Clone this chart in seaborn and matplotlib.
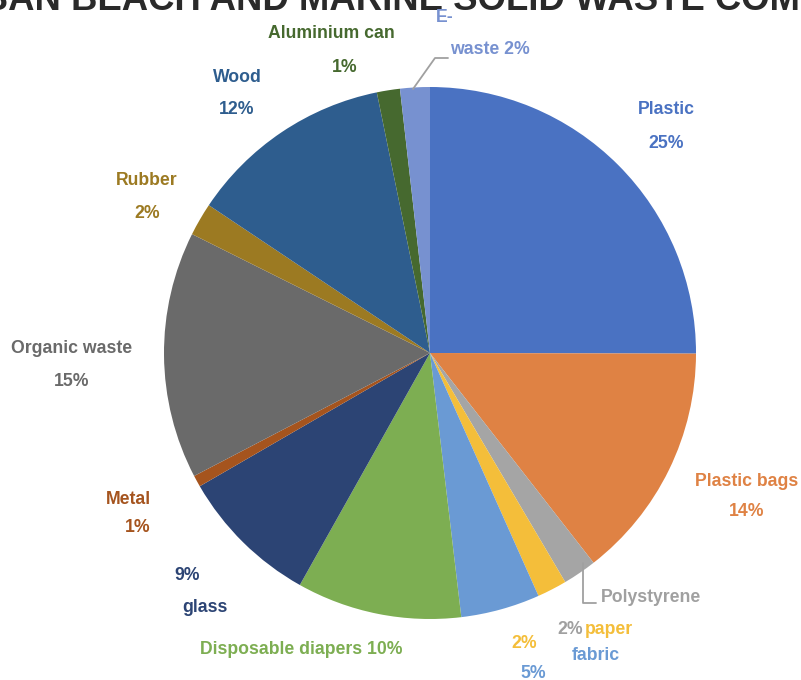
import matplotlib
matplotlib.use("Agg")
import matplotlib.pyplot as plt
from matplotlib.lines import Line2D
import seaborn as sns

# ---- data ----
categories = ["Plastic", "Plastic bags", "Polystyrene", "paper", "fabric",
              "Disposable diapers", "glass", "Metal", "Organic waste",
              "Rubber", "Wood", "Aluminium can", "E-waste"]
values = [25.0, 14.4, 2.05, 1.8, 4.8, 10.0, 8.5, 0.7, 15.0, 2.0, 12.4, 1.4, 1.8]
pct_labels = ["25%", "14%", "2%", "2%", "5%", "10%", "9%", "1%", "15%",
              "2%", "12%", "1%", "2%"]
colors = ["#4A72C2", "#DF8244", "#A5A5A5", "#F4BE3A", "#6A9AD4",
          "#7DAE52", "#2C4474", "#A5541E", "#6A6A6A",
          "#9C7A22", "#2E5D8E", "#46692F", "#7791D0"]
title = "URBAN BEACH AND MARINE SOLID WASTE COMPOSITION"

sns.set_theme(style="white")
plt.rcParams['font.family'] = ['Liberation Sans', 'DejaVu Sans']

W, H = 801, 680
fig = plt.figure(figsize=(W / 100, H / 100), dpi=100)
fig.patch.set_facecolor("white")

cx, cy, r = 430, 353, 266
ax = fig.add_axes([(cx - r) / W, (H - cy - r) / H, 2 * r / W, 2 * r / H])
palette = sns.color_palette(colors)
ax.pie(values, colors=palette, startangle=90, counterclock=False, radius=1,
       wedgeprops=dict(linewidth=0))
ax.set_xlim(-1, 1)
ax.set_ylim(-1, 1)
ax.set_aspect("equal")
ax.axis("off")


def ftext(x, y, s, color, size=12.7, ha="center"):
    fig.text(x / W, 1 - y / H, s, color=color, fontsize=size, fontweight="bold",
             ha=ha, va="center")


def fline(xs, ys, color="#A0A0A0"):
    fig.add_artist(Line2D([x / W for x in xs], [1 - y / H for y in ys],
                          color=color, lw=1.3, transform=fig.transFigure))


# title (clipped at top as in reference)
fig.text(-71 / W, 1 - 10 / H, title, color="#2A2A2A", fontsize=26.3,
         fontweight="bold", ha="left", va="baseline")

c = dict(zip(categories, colors))
p = dict(zip(categories, pct_labels))

ftext(666, 110, "Plastic", c["Plastic"])
ftext(666, 143, p["Plastic"], c["Plastic"])
ftext(747, 482, "Plastic bags", c["Plastic bags"])
ftext(747, 511, p["Plastic bags"], c["Plastic bags"])
ftext(601, 597, "Polystyrene", "#A0A0A0", ha="left")
fline([583, 583, 596], [563, 603, 603])
ftext(570, 629, p["Polystyrene"], "#A0A0A0")
ftext(609, 629, "paper", c["paper"])
ftext(524, 643, p["paper"], c["paper"])
ftext(596, 655, "fabric", c["fabric"])
ftext(533, 673, p["fabric"], c["fabric"])
ftext(301, 649, "Disposable diapers " + p["Disposable diapers"], c["Disposable diapers"])
ftext(187, 575, p["glass"], c["glass"])
ftext(205, 607, "glass", c["glass"])
ftext(128, 500, "Metal", c["Metal"])
ftext(138, 528, p["Metal"], c["Metal"])
ftext(72, 349, "Organic waste", c["Organic waste"])
ftext(72, 382, p["Organic waste"], c["Organic waste"])
ftext(147, 181, "Rubber", c["Rubber"])
ftext(147, 213, p["Rubber"], c["Rubber"])
ftext(237, 78, "Wood", c["Wood"])
ftext(237, 110, p["Wood"], c["Wood"])
ftext(331, 33, "Aluminium can", c["Aluminium can"])
ftext(345, 67, p["Aluminium can"], c["Aluminium can"])
ftext(445, 18, "E-", c["E-waste"])
ftext(490, 50, "waste " + p["E-waste"], c["E-waste"])
fline([413, 435, 448], [89, 58, 58])

fig.savefig("out.png", dpi=100, facecolor="white")
